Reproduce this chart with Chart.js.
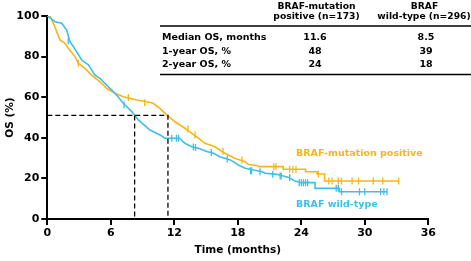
<!DOCTYPE html>
<html>
<head>
<meta charset="utf-8">
<script src="https://cdn.jsdelivr.net/npm/chart.js@4.4.1/dist/chart.umd.min.js"></script>
<style>
  body { margin: 0; background: #fff; }
  #wrap { width: 471px; height: 261px; }
</style>
</head>
<body>
<div id="wrap"><canvas id="chart1" width="471" height="261"></canvas></div>
<script>
// Curvas de Kaplan-Meier: [mês, OS %]
const mutanteCurva = [
  [0, 100], [0.3, 99.5], [0.57, 96.4], [0.89, 92.3], [1.2, 88.2], [1.67, 86.5], [1.98, 84.1],
  [2.62, 80], [2.93, 76.7], [3.56, 74.2], [4.2, 70.9], [4.98, 67.6], [5.6, 64.4], [6.4, 61.9],
  [7.18, 60.2], [7.8, 59.5], [8.45, 58.6], [9.4, 57.8], [10.0, 57], [10.65, 54.5], [11.3, 51.2],
  [12.07, 47.9], [13.0, 44.7], [13.65, 42.2], [14.27, 39.8], [14.9, 37.3], [15.85, 35.6],
  [16.5, 33.2], [17.1, 31.5], [17.7, 29.9], [18.7, 28.2], [19.0, 26.8], [19.8, 26.4],
  [20.0, 25.8], [22.3, 25.8], [22.3, 24.5], [24.4, 24.5], [24.4, 23.3], [25.5, 23.3],
  [25.5, 22.2], [26.2, 22.2], [26.2, 18.7], [33.2, 18.7]
];
const selvagemCurva = [
  [0, 100], [0.4, 98.5], [0.73, 97.2], [1.36, 96.4], [1.83, 93.1], [2.15, 87.3], [2.78, 82.4],
  [3.25, 78.3], [3.88, 75.9], [4.5, 70.9], [4.98, 69.3], [5.6, 66], [6.4, 61.9], [7.18, 57],
  [7.98, 52.9], [8.6, 48.8], [9.7, 43.8], [10.65, 41.4], [11.1, 39.8], [12.5, 39.8], [13.0, 37.3],
  [13.65, 35.6], [14.27, 34.8], [15.07, 33.2], [15.7, 32.4], [16.3, 30.7], [17.3, 29.1],
  [18.05, 26.6], [18.7, 25], [19.5, 24.1], [20.3, 23.3], [20.6, 22.5], [21.7, 22], [22.3, 21.2],
  [22.8, 20.5], [23.4, 18.7], [24.0, 17.9], [25.3, 17.9], [25.3, 15.1], [27.6, 15.1],
  [27.6, 13.4], [32.1, 13.4]
];
// Marcas de censura
const mutanteCensura = [
  [2.93, 76.7], [7.66, 59.8], [9.2, 57.3], [13.3, 44.5], [13.96, 41.4], [16.6, 33.4], [18.4, 29.1],
  [21.4, 25.8], [21.6, 25.8], [22.9, 24.5], [23.2, 24.5], [23.5, 24.5], [25.6, 22.2],
  [26.6, 18.7], [26.9, 18.7], [27.5, 18.7], [27.8, 18.7], [28.8, 18.7], [29.4, 18.7],
  [30.8, 18.7], [31.7, 18.7], [33.2, 18.7]
];
const selvagemCensura = [
  [1.98, 87.8], [7.25, 56.2], [11.76, 39.8], [12.2, 39.8], [12.4, 39.8], [13.8, 35.5], [14.0, 35.2],
  [15.5, 32.8], [17.0, 29.6], [19.2, 23.8], [19.3, 23.8], [20.1, 23.3], [21.3, 22], [22.0, 21.2],
  [22.1, 21.2], [22.9, 20.5], [23.8, 17.9], [24.0, 17.9], [24.2, 17.9], [24.4, 17.9], [24.6, 17.9],
  [27.3, 15.1], [27.5, 15.1], [27.8, 13.4], [29.5, 13.4], [30.0, 13.4], [31.5, 13.4],
  [31.8, 13.4], [32.1, 13.4]
];
// Medianas (linhas tracejadas)
const medianaOS = 51;
const medianaMutante = 11.4;
const medianaSelvagem = 8.25;

const xTicks = [0, 6, 12, 18, 24, 30, 36];
const yTicks = [0, 20, 40, 60, 80, 100];

// Tabela
const tabelaCabecalho = [['BRAF-mutation', 'positive (n=173)'], ['BRAF', 'wild-type (n=296)']];
const tabelaLinhas = ['Median OS, months', '1-year OS, %', '2-year OS, %'];
const tabelaMutante = ['11.6', '48', '24'];
const tabelaSelvagem = ['8.5', '39', '18'];

const corMutante = '#F6B618';
const corSelvagem = '#3FBEEA';
const fonte = '"DejaVu Sans", sans-serif';

function pts(arr) {
  return arr.map(function (p) { return { x: p[0], y: p[1] }; });
}

// Desenha tabela e rótulos das curvas
const textoPlugin = {
  id: 'textoPlugin',
  afterDraw: function (chart) {
    const ctx = chart.ctx;
    const xs = chart.scales.x, ys = chart.scales.y;
    ctx.save();
    ctx.textBaseline = 'middle';
    ctx.font = 'bold 9.5px ' + fonte;
    ctx.fillStyle = corMutante;
    ctx.textAlign = 'left';
    ctx.fillText('BRAF-mutation positive', xs.getPixelForValue(23.5), ys.getPixelForValue(32.3));
    ctx.fillStyle = corSelvagem;
    ctx.fillText('BRAF wild-type', xs.getPixelForValue(23.5), ys.getPixelForValue(6.9));

    ctx.fillStyle = '#000';
    ctx.textAlign = 'center';
    ctx.font = 'bold 9.2px ' + fonte;
    ctx.fillText(tabelaCabecalho[0][0], 316.5, 6.5);
    ctx.fillText(tabelaCabecalho[0][1], 316.5, 17);
    ctx.fillText(tabelaCabecalho[1][0], 424.5, 6.5);
    ctx.fillText(tabelaCabecalho[1][1], 424, 17);

    ctx.strokeStyle = '#000';
    ctx.lineWidth = 1.5;
    ctx.beginPath();
    ctx.moveTo(160, 26); ctx.lineTo(471, 26);
    ctx.moveTo(160, 74.5); ctx.lineTo(471, 74.5);
    ctx.stroke();

    ctx.font = 'bold 9.5px ' + fonte;
    const linhaY = [38, 51.5, 64.5];
    for (let i = 0; i < tabelaLinhas.length; i++) {
      ctx.textAlign = 'left';
      ctx.fillText(tabelaLinhas[i], 162, linhaY[i]);
      ctx.textAlign = 'center';
      ctx.fillText(tabelaMutante[i], 315, linhaY[i]);
      ctx.fillText(tabelaSelvagem[i], 426, linhaY[i]);
    }
    ctx.restore();
  }
};

const ctx = document.getElementById('chart1').getContext('2d');
const chart = new Chart(ctx, {
  type: 'line',
  data: {
    datasets: [
      {
        label: 'mediana',
        data: [{ x: 0, y: medianaOS }, { x: medianaMutante, y: medianaOS }, { x: medianaMutante, y: 0 }],
        borderColor: '#000', borderWidth: 1.3, borderDash: [5, 3], pointRadius: 0, fill: false
      },
      {
        label: 'mediana2',
        data: [{ x: medianaSelvagem, y: medianaOS }, { x: medianaSelvagem, y: 0 }],
        borderColor: '#000', borderWidth: 1.3, borderDash: [5, 3], pointRadius: 0, fill: false
      },
      {
        label: 'BRAF wild-type',
        data: pts(selvagemCurva),
        borderColor: corSelvagem, borderWidth: 1.6, pointRadius: 0, tension: 0, fill: false
      },
      {
        label: 'BRAF-mutation positive',
        data: pts(mutanteCurva),
        borderColor: corMutante, borderWidth: 1.6, pointRadius: 0, tension: 0, fill: false
      },
      {
        label: 'censura selvagem',
        data: pts(selvagemCensura),
        showLine: false, pointStyle: 'line', rotation: 90, pointRadius: 3.5,
        borderColor: corSelvagem, borderWidth: 1.3
      },
      {
        label: 'censura mutante',
        data: pts(mutanteCensura),
        showLine: false, pointStyle: 'line', rotation: 90, pointRadius: 3.5,
        borderColor: corMutante, borderWidth: 1.3
      }
    ]
  },
  options: {
    responsive: false,
    animation: false,
    layout: { padding: { top: 16, right: 42.7, left: 0, bottom: 0 } },
    plugins: { legend: { display: false }, tooltip: { enabled: false } },
    scales: {
      x: {
        type: 'linear', min: 0, max: 36,
        afterBuildTicks: function (s) { s.ticks = xTicks.map(function (v) { return { value: v }; }); },
        afterFit: function (s) { s.height = 42; },
        ticks: { color: '#000', padding: 2, font: { family: fonte, weight: 'bold', size: 11 } },
        grid: { drawOnChartArea: false, drawTicks: true, tickLength: 6, color: '#000', lineWidth: 2 },
        border: { color: '#000', width: 2 },
        title: { display: true, text: 'Time (months)', color: '#000', padding: { top: 4, bottom: 4 },
                 font: { family: fonte, weight: 'bold', size: 10.5 } }
      },
      y: {
        min: 0, max: 100,
        afterBuildTicks: function (s) { s.ticks = yTicks.map(function (v) { return { value: v }; }); },
        afterFit: function (s) { s.width = 47.3; },
        ticks: { color: '#000', padding: 2, font: { family: fonte, weight: 'bold', size: 11 } },
        grid: { drawOnChartArea: false, drawTicks: true, tickLength: 6, color: '#000', lineWidth: 2 },
        border: { color: '#000', width: 2 },
        title: { display: true, text: 'OS (%)', color: '#000', padding: { top: 4, bottom: 4 },
                 font: { family: fonte, weight: 'bold', size: 10.5 } }
      }
    }
  },
  plugins: [textoPlugin]
});
</script>
</body>
</html>
